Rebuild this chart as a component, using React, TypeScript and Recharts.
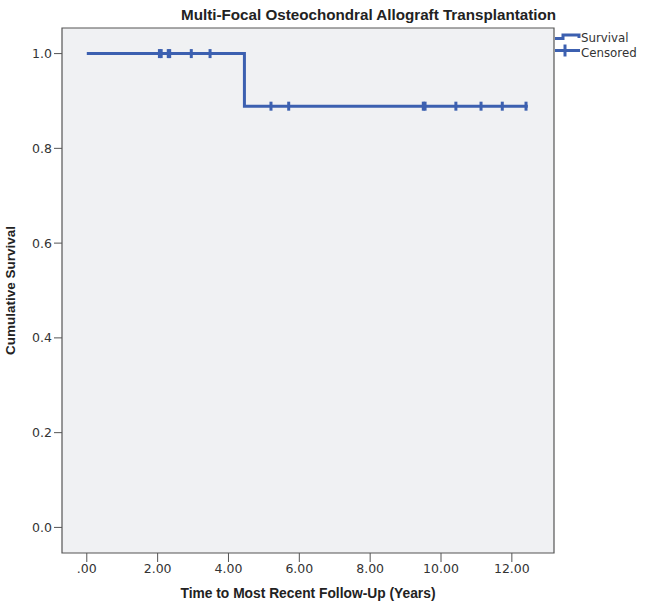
import {
  ComposedChart,
  Line,
  Scatter,
  XAxis,
  YAxis,
  ReferenceArea,
} from "recharts";

const BLUE = "#3c60b0";
const FONT = "'Liberation Sans', Arial, sans-serif";
const TICK_FONT = "'DejaVu Sans', sans-serif";

// Kaplan-Meier step points (time in years, cumulative survival)
const stepTimes = [0, 4.45, 12.45];
const stepSurvival = [1.0, 0.889, 0.889];

// censored observations
const censoredTimes = [2.05, 2.1, 2.3, 2.34, 2.95, 3.48, 5.2, 5.7, 9.5, 9.55, 10.42, 11.13, 11.73, 12.4];
const censoredSurvival = [1, 1, 1, 1, 1, 1, 0.889, 0.889, 0.889, 0.889, 0.889, 0.889, 0.889, 0.889];

const xTicks = [0, 2, 4, 6, 8, 10, 12];
const yTicks = [0, 0.2, 0.4, 0.6, 0.8, 1.0];

const X_DOMAIN: [number, number] = [-0.7, 13.19];
const Y_DOMAIN: [number, number] = [-0.054, 1.054];

const survivalData = stepTimes.map((t, i) => ({ t, s: stepSurvival[i] }));
const censoredData = censoredTimes.map((t, i) => ({ t, s: censoredSurvival[i] }));

const CensorMark = (props: any) => {
  const { cx, cy } = props;
  if (cx == null || cy == null) return null;
  return (
    <line x1={cx} x2={cx} y1={cy - 4.5} y2={cy + 4.5} stroke={BLUE} strokeWidth={3} />
  );
};

export default function App() {
  return (
    <div style={{ position: "absolute", left: 0, top: 0, background: "#fff" }}>
      <ComposedChart
        width={658}
        height={601}
        margin={{ top: 28, right: 104, bottom: 0, left: 22 }}
      >
        <text
          x={556}
          y={20}
          textAnchor="end"
          fontSize={15.2}
          fontWeight="bold"
          fill="#222"
          fontFamily={FONT}
        >
          Multi-Focal Osteochondral Allograft Transplantation
        </text>
        {/* legend, drawn by hand to keep it off the layout */}
        <g transform="translate(555,28)">
          <polyline
            points="0,10.5 8,10.5 8,7 24,7 24,10"
            fill="none"
            stroke={BLUE}
            strokeWidth={3}
          />
          <text x={26} y={14} fontSize={11.8} fill="#333" fontFamily={TICK_FONT}>
            Survival
          </text>
          <line x1={0} x2={25} y1={22.5} y2={22.5} stroke={BLUE} strokeWidth={3} />
          <line x1={10} x2={10} y1={16.5} y2={28.5} stroke={BLUE} strokeWidth={3} />
          <text x={26} y={28.5} fontSize={11.8} fill="#333" fontFamily={TICK_FONT}>
            Censored
          </text>
        </g>
        <ReferenceArea
          x1={X_DOMAIN[0]}
          x2={X_DOMAIN[1]}
          y1={Y_DOMAIN[0]}
          y2={Y_DOMAIN[1]}
          fill="#f0f1f3"
          fillOpacity={1}
          stroke="#555"
          strokeWidth={1.2}
          ifOverflow="visible"
        />
        <XAxis
          type="number"
          dataKey="t"
          domain={X_DOMAIN}
          ticks={xTicks}
          allowDataOverflow
          height={48}
          axisLine={false}
          tickLine={{ stroke: "#555" }}
          tickSize={9}
          tick={{ fontSize: 12.5, fill: "#333", fontFamily: TICK_FONT }}
          tickFormatter={(v: number) => (v === 0 ? ".00" : v.toFixed(2))}
          label={{
            value: "Time to Most Recent Follow-Up (Years)",
            position: "insideBottom",
            offset: 3,
            fontSize: 13.8,
            fontWeight: "bold",
            fill: "#222",
            fontFamily: FONT,
          }}
        />
        <YAxis
          type="number"
          dataKey="s"
          domain={Y_DOMAIN}
          ticks={yTicks}
          allowDataOverflow
          width={40}
          axisLine={false}
          tickLine={{ stroke: "#555" }}
          tickSize={8}
          tick={{ fontSize: 12.5, fill: "#333", fontFamily: TICK_FONT }}
          tickFormatter={(v: number) => v.toFixed(1)}
          label={{
            value: "Cumulative Survival",
            angle: -90,
            position: "insideLeft",
            offset: -12,
            style: { textAnchor: "middle" },
            fontSize: 13.5,
            fontWeight: "bold",
            fill: "#222",
            fontFamily: FONT,
          }}
        />
        <Line
          data={survivalData}
          dataKey="s"
          type="stepAfter"
          stroke={BLUE}
          strokeWidth={3}
          dot={false}
          activeDot={false}
          isAnimationActive={false}
          legendType="none"
        />
        <Scatter
          data={censoredData}
          dataKey="s"
          shape={CensorMark}
          isAnimationActive={false}
          legendType="none"
        />
      </ComposedChart>
    </div>
  );
}
